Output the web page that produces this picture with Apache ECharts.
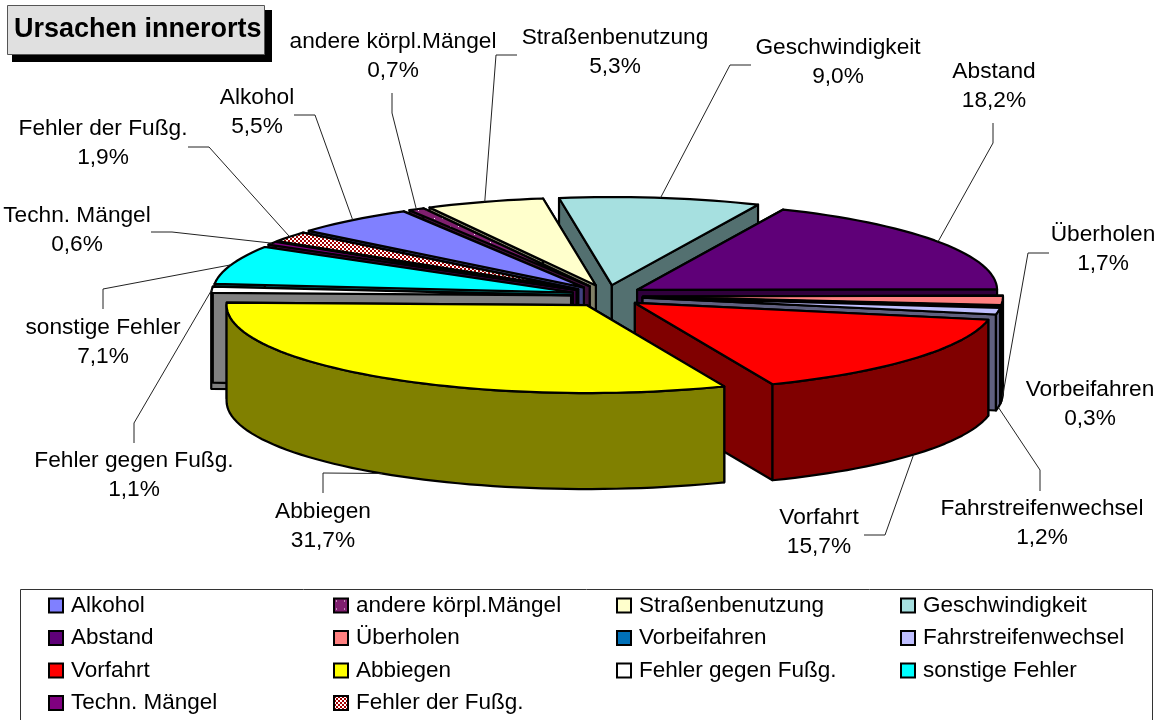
<!DOCTYPE html>
<html><head><meta charset="utf-8">
<script src="https://cdn.jsdelivr.net/npm/echarts@6/dist/echarts.min.js"></script>
<style>html,body{margin:0;padding:0;background:#fff}#c{width:1161px;height:720px}</style>
</head><body><div id="c"></div>
<script>
const categories = ['Alkohol','andere körpl.Mängel','Straßenbenutzung','Geschwindigkeit','Abstand','Überholen','Vorbeifahren','Fahrstreifenwechsel','Vorfahrt','Abbiegen','Fehler gegen Fußg.','sonstige Fehler','Techn. Mängel','Fehler der Fußg.'];
const values = [5.5,0.7,5.3,9.0,18.2,1.7,0.3,1.2,15.7,31.7,1.1,7.1,0.6,1.9];
const colors = ['#8080FF','#7F1F6F','#FFFFCC','#A6E0E0','#5F0078','#FF8080','#0070B8','#BFBFFF','#FF0000','#FFFF00','#FFFFFF','#00FFFF','#800080','#C08080'];
const legendColumns = [[0,4,8,12],[1,5,9,13],[2,6,10],[3,7,11]];

// layout only
const PIE = {cx:607, cy:296, rx:360, ry:88, ex:36, ey:11, depth:96, startDeg:-139.84};
const FONT = 'Liberation Sans';
const labelCenters = [[257,112],[393,56],[615,52],[838,62],[994,86],[1103,249],[1090,404],[1042,523],[819,532],[323,526],[134,475],[103,342],[77,230],[103,143]];
const leaderElbows = [
 [[294,115],[315,115]],[[392,93],[392,113]],[[517,55],[496,55]],[[751,65],[730,65]],[[993,123],[993,143]],
 [[1049,253],[1028,253]],null,[[1040,491],[1040,470]],[[864,535],[885,535]],[[323,493],[323,473]],
 [[134,443],[134,423]],[[103,309],[103,289]],[[151,232],[172,232]],[[188,147],[209,147]]];

function patternCanvas(size, bg, fg, cells){
  const c=document.createElement('canvas'); c.width=c.height=size;
  const g=c.getContext('2d'); g.fillStyle=bg; g.fillRect(0,0,size,size); g.fillStyle=fg;
  cells.forEach(p=>g.fillRect(p[0],p[1],p[2],p[3]));
  return {image:c, repeat:'repeat'};
}
const fills = colors.slice();
fills[1] = patternCanvas(8,'#7F1F6F','#FFFFFF',[[2,2,1,1]]);
fills[13] = patternCanvas(4,'#FFFFFF','#A00000',[[0,0,2,2],[2,2,2,2]]);

function halfColor(hex){
  const n=parseInt(hex.slice(1),16);
  const h=v=>Math.round(v/2).toString(16).padStart(2,'0');
  return '#'+h(n>>16&255)+h(n>>8&255)+h(n&255);
}
const total = values.reduce((a,b)=>a+b,0);
const slices=[]; let cum=0;
values.forEach((v,i)=>{
  const t1=PIE.startDeg+cum/total*360; cum+=v; const t2=PIE.startDeg+cum/total*360;
  const mid=(t1+t2)/2*Math.PI/180;
  slices.push({i,t1,t2,mid,ax:PIE.cx+PIE.ex*Math.cos(mid),ay:PIE.cy+PIE.ey*Math.sin(mid)});
});
function rim(s,deg,dy){const r=deg*Math.PI/180;return [s.ax+PIE.rx*Math.cos(r),s.ay+PIE.ry*Math.sin(r)+(dy||0)];}
function arc(s,a,b,dy){const n=Math.max(1,Math.ceil(Math.abs(b-a)/2));const o=[];for(let k=0;k<=n;k++)o.push(rim(s,a+(b-a)*k/n,dy));return o;}
const edge={stroke:'#000',lineWidth:2.2,lineJoin:'round'};

function sliceRender(params,api){
  const s=slices[order[params.seriesIndex]];
  const wall=halfColor(colors[s.i]);
  const children=[];
  const face=(deg)=>{const p=rim(s,deg);return [[s.ax,s.ay],p,[p[0],p[1]+PIE.depth],[s.ax,s.ay+PIE.depth]];};
  children.push({type:'polygon',shape:{points:face(s.t1)},style:Object.assign({fill:wall},edge)});
  children.push({type:'polygon',shape:{points:face(s.t2)},style:Object.assign({fill:wall},edge)});
  const a=Math.max(s.t1,0), b=Math.min(s.t2,180);
  if(b>a){
    const pts=arc(s,a,b,0).concat(arc(s,b,a,PIE.depth));
    children.push({type:'polygon',shape:{points:pts},style:Object.assign({fill:wall},edge)});
  }
  const top=[[s.ax,s.ay]].concat(arc(s,s.t1,s.t2,0));
  children.push({type:'polygon',shape:{points:top},style:Object.assign({fill:fills[s.i]},edge)});
  return {type:'group',children};
}
function labelRender(params,api){
  const i=params.dataIndex, s=slices[i], children=[];
  if(leaderElbows[i]){
    const r=rim(s,s.mid*180/Math.PI,Math.sin(s.mid)>0?PIE.depth:0);
    children.push({type:'polyline',shape:{points:leaderElbows[i].concat([r])},style:{fill:'none',stroke:'#222',lineWidth:1}});
  }
  const pct=api.value(0).toFixed(1).replace('.',',')+'%';
  children.push({type:'text',style:{text:categories[i]+'\n'+pct,x:labelCenters[i][0],y:labelCenters[i][1],align:'center',verticalAlign:'middle',font:'22.7px "'+FONT+'"',lineHeight:28.5,fill:'#000'}});
  return {type:'group',children};
}
const order=slices.slice().sort((p,q)=>Math.sin(p.mid)-Math.sin(q.mid)).map(s=>s.i);
const series=order.map(i=>({type:'custom',name:categories[i],coordinateSystem:'none',silent:true,
  itemStyle:{color:fills[i]},data:[[values[i]]],renderItem:sliceRender}));
series.push({type:'custom',name:'Beschriftung',coordinateSystem:'none',silent:true,z:5,data:values.map(v=>[v]),renderItem:labelRender});

const legendX=[48,333,616,900];
const legend=legendColumns.map((col,k)=>({
  orient:'vertical',left:legendX[k],top:594,padding:0,itemGap:9.5,itemWidth:14,itemHeight:14,selectedMode:false,
  icon:'rect',itemStyle:{borderColor:'#000',borderWidth:2},
  textStyle:{fontFamily:FONT,fontSize:22.5,color:'#000',padding:[0,0,0,3]},
  data:col.map(i=>({name:categories[i],icon:'rect'}))
}));

const chart=echarts.init(document.getElementById('c'),null,{renderer:'canvas'});
chart.setOption({
  animation:false,backgroundColor:'#fff',
  title:{text:'Ursachen innerorts',left:14,top:8,padding:0,
    textStyle:{fontFamily:FONT,fontSize:27,fontWeight:'bold',color:'#000',lineHeight:44}},
  graphic:[
    {type:'rect',z:-3,silent:true,shape:{x:12,y:10,width:260,height:52},style:{fill:'#000'}},
    {type:'rect',z:-2,silent:true,shape:{x:7.5,y:5.5,width:257,height:49},style:{fill:'#E0E0E0',stroke:'#555',lineWidth:1}},
    {type:'rect',z:-3,silent:true,shape:{x:20.5,y:589.5,width:1132,height:140},style:{fill:'#fff',stroke:'#333',lineWidth:1}}
  ],
  legend,series
});
</script></body></html>
